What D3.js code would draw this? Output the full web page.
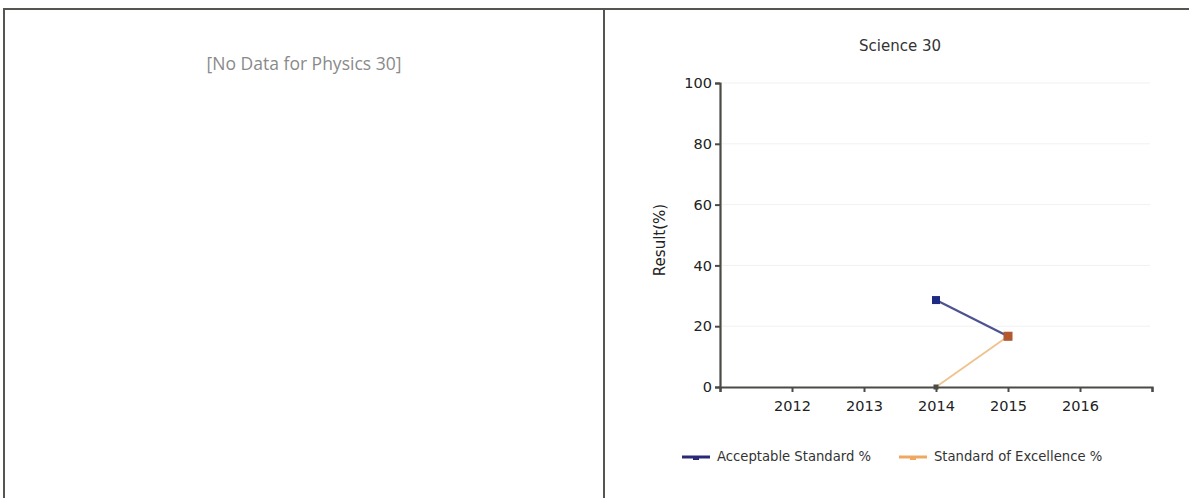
<!DOCTYPE html>
<html>
<head>
<meta charset="utf-8">
<script src="https://cdn.jsdelivr.net/npm/d3@7"></script>
<style>
  html, body { margin: 0; padding: 0; background: #fff; }
  svg { display: block; }
</style>
</head>
<body>
<svg id="chart" width="1189" height="498"></svg>
<script>
// ---- data ----
const years = [2012, 2013, 2014, 2015, 2016];
const acceptableYears = [2014, 2015];
const acceptableValues = [28.6, 16.7];
const excellenceYears = [2014, 2015];
const excellenceValues = [0, 16.7];
const yTicks = [0, 20, 40, 60, 80, 100];
const seriesNames = ["Acceptable Standard %", "Standard of Excellence %"];
const chartTitle = "Science 30";
const noDataText = "[No Data for Physics 30]";
const yLabel = "Result(%)";

const svg = d3.select("#chart");
const frameColor = "#555650";

// ---- frame ----
svg.append("line").attr("x1", 4).attr("x2", 1189).attr("y1", 9).attr("y2", 9)
  .attr("stroke", frameColor).attr("stroke-width", 2);
svg.append("line").attr("x1", 4).attr("x2", 4).attr("y1", 8).attr("y2", 498)
  .attr("stroke", frameColor).attr("stroke-width", 2);
svg.append("line").attr("x1", 604).attr("x2", 604).attr("y1", 9).attr("y2", 498)
  .attr("stroke", frameColor).attr("stroke-width", 2);

// ---- left panel ----
svg.append("text").attr("x", 304).attr("y", 70).attr("text-anchor", "middle")
  .attr("font-family", "'Open Sans', sans-serif").attr("font-size", 17.5)
  .attr("fill", "#8a8a8a").text(noDataText);

// ---- right panel chart ----
const x = d3.scaleLinear().domain([2011, 2017]).range([720, 1152]);
const y = d3.scaleLinear().domain([0, 100]).range([387, 83]);

svg.append("text").attr("x", 900).attr("y", 51).attr("text-anchor", "middle")
  .attr("font-family", "'DejaVu Sans', sans-serif").attr("font-size", 15)
  .attr("fill", "#333").text(chartTitle);

// faint grid
svg.append("g").selectAll("line").data(yTicks.slice(1)).join("line")
  .attr("x1", 722).attr("x2", 1150)
  .attr("y1", d => y(d)).attr("y2", d => y(d))
  .attr("stroke", "#f1f1f1").attr("stroke-width", 1);

const axisFont = "'DejaVu Sans', sans-serif";
const yAxis = svg.append("g").attr("transform", "translate(720,0)")
  .call(d3.axisLeft(y).tickValues(yTicks).tickSize(5).tickPadding(3).tickFormat(d3.format("d")));
const xAxis = svg.append("g").attr("transform", "translate(0,387)")
  .call(d3.axisBottom(x).tickValues(d3.range(2011, 2018)).tickSize(5).tickPadding(9)
    .tickFormat(d => years.includes(d) ? String(d) : ""));

[yAxis, xAxis].forEach(g => {
  g.select(".domain").attr("stroke", "#4a4a46").attr("stroke-width", 2.2);
  g.selectAll(".tick line").attr("stroke", "#4a4a46").attr("stroke-width", 2);
  g.selectAll(".tick text").attr("font-family", axisFont).attr("font-size", 14.5)
    .attr("fill", "#222");
});

svg.append("text")
  .attr("transform", "translate(665,240) rotate(-90)")
  .attr("text-anchor", "middle")
  .attr("font-family", axisFont).attr("font-size", 15).attr("fill", "#222")
  .text(yLabel);

// series
const line = d3.line().x(d => x(d[0])).y(d => y(d[1]));
const acc = acceptableYears.map((yr, i) => [yr, acceptableValues[i]]);
const exc = excellenceYears.map((yr, i) => [yr, excellenceValues[i]]);

svg.append("path").datum(acc).attr("d", line).attr("fill", "none")
  .attr("stroke", "#4d5290").attr("stroke-width", 2.2);
svg.append("g").selectAll("rect").data(acc).join("rect")
  .attr("x", d => x(d[0]) - 4).attr("y", d => y(d[1]) - 4)
  .attr("width", 8).attr("height", 8).attr("fill", "#1f2b82");

svg.append("path").datum(exc).attr("d", line).attr("fill", "none")
  .attr("stroke", "#efc28e").attr("stroke-width", 1.8);
svg.append("g").selectAll("rect").data(exc).join("rect")
  .attr("x", d => x(d[0]) - (d[1] === 0 ? 2.5 : 4.5))
  .attr("y", d => y(d[1]) - (d[1] === 0 ? 2.5 : 4.5))
  .attr("width", d => d[1] === 0 ? 5 : 9).attr("height", d => d[1] === 0 ? 5 : 9)
  .attr("fill", d => d[1] === 0 ? "#4a4a46" : "#b2592f");

// legend
const legend = [
  { name: seriesNames[0], color: "#2a2a78", x0: 682 },
  { name: seriesNames[1], color: "#f0a860", x0: 899 }
];
const lg = svg.append("g").selectAll("g").data(legend).join("g");
lg.append("line").attr("x1", d => d.x0).attr("x2", d => d.x0 + 28)
  .attr("y1", 457).attr("y2", 457).attr("stroke", d => d.color).attr("stroke-width", 3);
lg.append("rect").attr("x", d => d.x0 + 11).attr("y", 457).attr("width", 6).attr("height", 3)
  .attr("fill", d => d.color);
lg.append("text").attr("x", d => d.x0 + 35).attr("y", 461)
  .attr("font-family", axisFont).attr("font-size", 13.2).attr("fill", "#333")
  .text(d => d.name);
</script>
</body>
</html>
